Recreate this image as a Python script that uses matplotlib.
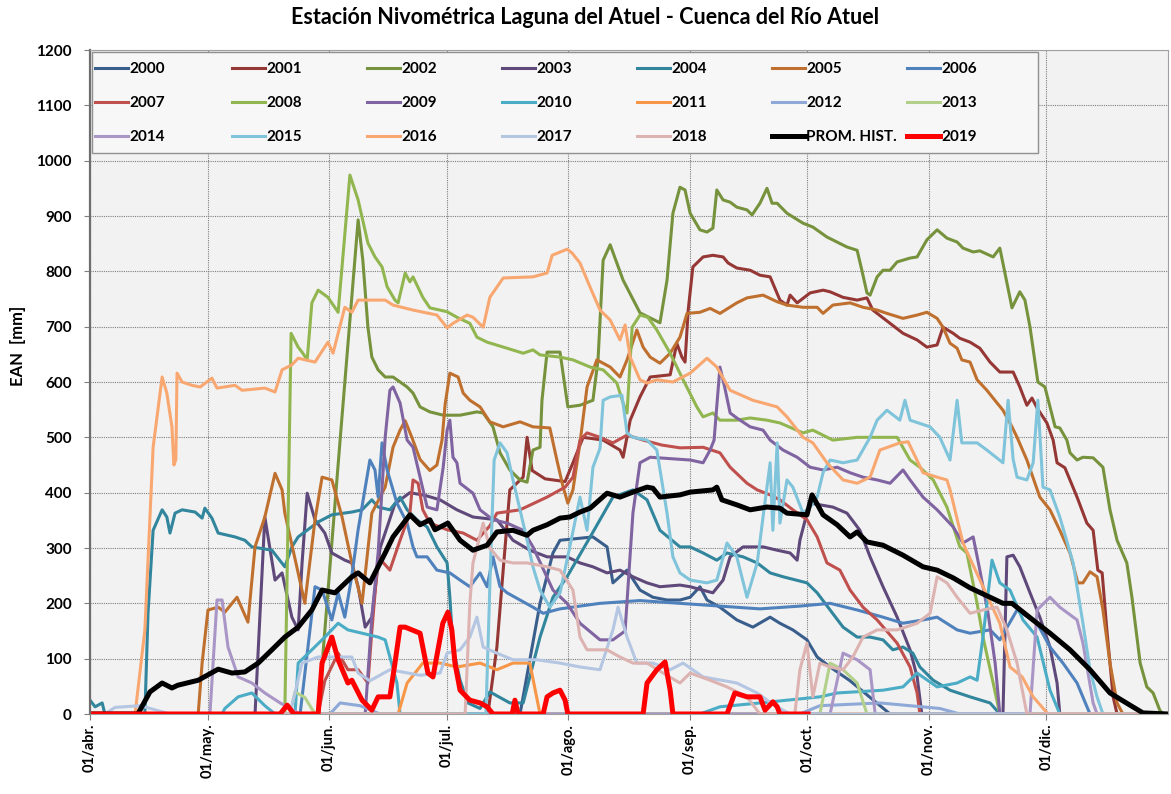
import matplotlib
matplotlib.use("Agg")
import matplotlib.pyplot as plt
from matplotlib.legend import Legend
from matplotlib.patches import Rectangle
from matplotlib.ticker import MultipleLocator

plt.rcParams['font.family'] = ['Lato', 'DejaVu Sans']
plt.rcParams['font.weight'] = 'bold'

# dias desde el 01/abr. , EAN [mm]
s2000 = [(0, 0), (109.7, 0), (114.8, 200), (118.1, 291), (119.9, 314), (128.3, 320), (131.9, 302), (133.4, 237), (137, 260), (140.3, 224), (143.6, 211), (147.2, 206), (150.5, 206), (153.1, 211), (155.6, 230), (157.4, 206), (160.7, 193), (165, 170), (169.1, 157), (173.5, 175), (176, 164), (179.3, 152), (182.9, 134), (185.5, 103), (188.8, 85), (193.9, 60), (199, 30), (204.1, 0), (270, 0)]
s2001 = [(0, 0), (101.5, 0), (103.8, 121), (105.4, 260), (107.1, 405), (110.5, 428), (111.5, 500), (112.8, 440), (116.1, 425), (121.2, 420), (123.2, 454), (125.8, 500), (130.9, 495), (135.2, 477), (136, 464), (137.8, 531), (140.3, 573), (142.9, 609), (148, 613), (149.7, 670), (151, 645), (151.8, 636), (152.6, 730), (153.8, 808), (156.4, 826), (158.9, 829), (161.5, 826), (162.8, 815), (165, 806), (168.4, 802), (170.9, 793), (173.5, 790), (176, 748), (177.8, 739), (178.6, 757), (180.4, 743), (183.7, 761), (187, 766), (188.8, 763), (192.1, 753), (195.7, 748), (198.2, 752), (199.7, 730), (204.1, 706), (207.4, 688), (211, 676), (213.5, 663), (216.1, 667), (217.6, 699), (220.2, 688), (221.9, 679), (224.5, 672), (227, 661), (229.6, 636), (232.1, 618), (235.5, 618), (237.2, 591), (239, 558), (240.3, 571), (241.6, 553), (244.1, 526), (245.7, 495), (246.7, 454), (248.7, 445), (251.8, 392), (254.3, 345), (255.9, 332), (257.1, 260), (258.2, 255), (259.4, 152), (260.2, 92), (261, 31), (262, 0), (270, 0)]
s2002 = [(0, 0), (58.2, 0), (63.8, 495), (68.4, 893), (69.6, 820), (70.9, 699), (71.9, 645), (73.5, 622), (75.3, 609), (77.3, 609), (80.9, 591), (82.4, 580), (84.2, 555), (86.7, 546), (90.1, 540), (94.4, 540), (98.7, 546), (100.3, 544), (102.8, 519), (104.6, 472), (107.1, 441), (109.7, 423), (111.5, 419), (113, 477), (114.8, 482), (115.3, 567), (116.6, 654), (119.9, 654), (121.9, 555), (125, 558), (128.3, 567), (129.6, 640), (130.9, 820), (132.7, 848), (134.4, 815), (136, 784), (140.3, 725), (145.4, 707), (147.2, 784), (148.7, 905), (150.5, 952), (151.8, 947), (153.1, 905), (155.6, 875), (157.4, 871), (158.9, 878), (159.9, 947), (161.5, 929), (163.3, 925), (165, 916), (167.6, 911), (168.9, 902), (170.9, 923), (172.7, 950), (174, 923), (175.3, 923), (177.8, 905), (181.9, 887), (184.4, 880), (188, 862), (193.1, 844), (195.7, 838), (196.9, 802), (198.2, 761), (199, 757), (200.8, 790), (202.3, 802), (204.1, 802), (205.9, 817), (209.2, 824), (211, 826), (213.5, 857), (216.1, 875), (218.6, 860), (221.2, 853), (222.7, 842), (225.3, 835), (227, 837), (230.4, 826), (232.1, 842), (233.4, 797), (235.2, 734), (237.2, 763), (238.5, 748), (239.8, 699), (241.8, 600), (243.6, 591), (246.2, 519), (247.4, 517), (249.2, 495), (250, 472), (251.8, 459), (253.3, 464), (255.9, 463), (258.4, 446), (260.2, 369), (262, 314), (264.5, 273), (265.8, 211), (267.9, 92), (269.6, 49), (271.2, 38), (272.9, 7), (273.7, 0), (275, 0)]
s2003 = [(0, 0), (42.1, 0), (44.6, 356), (47.2, 242), (49, 255), (51.5, 175), (53.1, 152), (54.1, 273), (55.4, 399), (57.4, 351), (59.9, 327), (61.7, 291), (65, 278), (66.8, 273), (68.4, 230), (70.2, 157), (71.9, 175), (74, 300), (77.8, 380), (81.6, 400), (85.5, 395), (89.3, 387), (93.6, 369), (97.7, 356), (103.8, 351), (107.9, 314), (112.2, 296), (116.6, 284), (121.7, 284), (125, 273), (128.3, 266), (131.9, 255), (135.2, 260), (138.5, 248), (142.1, 237), (145.4, 230), (150.5, 233), (153.1, 230), (158.9, 219), (161.5, 242), (163.3, 284), (166.6, 302), (171.7, 302), (175.3, 296), (178.6, 291), (180.4, 278), (181.1, 314), (182.9, 363), (183.7, 381), (186.2, 378), (189.5, 374), (193.1, 363), (196.4, 332), (199, 284), (202.3, 230), (205.9, 175), (209.2, 116), (211, 67), (212.2, 0), (232.9, 0), (233.9, 284), (235.5, 287), (237.2, 266), (239.8, 219), (242.3, 175), (244.9, 121), (246.7, 56), (247.4, 0), (270, 0)]
s2004 = [(0, 25), (1.3, 13), (3.1, 20), (3.8, 0), (14, 0), (14.8, 182), (16.1, 332), (18.4, 369), (19.6, 356), (20.4, 327), (21.7, 363), (23.5, 369), (26.8, 365), (28.6, 354), (29.3, 372), (31.1, 354), (32.7, 327), (37, 320), (39.5, 314), (41.3, 302), (46.4, 296), (49.7, 266), (51.5, 302), (53.1, 320), (58.2, 347), (61.7, 360), (66.8, 365), (69.4, 369), (71.9, 387), (73.5, 374), (76.5, 369), (79.1, 392), (80.9, 369), (83.4, 351), (86, 338), (88.5, 302), (91.1, 273), (91.8, 211), (92.6, 121), (94.4, 61), (96.4, 20), (99.5, 10), (102, 40), (107.1, 20), (110.5, 20), (114.8, 139), (118.1, 211), (121.7, 248), (127.6, 320), (133.4, 392), (138.5, 405), (142.1, 387), (145.4, 332), (150.5, 302), (153.1, 302), (156.4, 291), (159.9, 278), (162.5, 291), (166.6, 284), (170.2, 273), (173.5, 255), (176.8, 248), (182.9, 237), (185.5, 219), (188.8, 188), (192.1, 157), (195.7, 139), (199, 139), (202.3, 134), (204.8, 116), (207.4, 121), (209.9, 110), (211.7, 85), (215.1, 61), (219.4, 43), (224.5, 31), (229.6, 20), (232.1, 0), (270, 0)]
s2005 = [(0, 0), (27.6, 0), (28.6, 92), (30.1, 188), (32.7, 193), (34.4, 184), (37.5, 211), (40.3, 166), (42.1, 302), (44.6, 356), (47.2, 435), (49, 405), (49.7, 363), (53.1, 255), (54.8, 200), (57.4, 351), (59.2, 428), (61.7, 423), (64.3, 356), (66.8, 273), (69.4, 200), (71.9, 363), (75.3, 410), (77.3, 482), (79.1, 513), (80.4, 530), (82.1, 500), (84.2, 460), (86.7, 440), (88.5, 450), (89.8, 495), (90.6, 560), (91.8, 616), (93.9, 609), (95.2, 580), (96.9, 567), (99.5, 555), (102, 528), (105.4, 519), (109.7, 528), (113, 519), (117.3, 517), (119.1, 459), (120.7, 410), (121.9, 381), (123.2, 405), (125, 490), (126.8, 591), (129.3, 640), (132.7, 627), (135.2, 609), (137, 640), (139.5, 694), (141.1, 663), (142.9, 645), (145.4, 634), (148, 652), (150.5, 681), (152.3, 724), (155.6, 726), (158.2, 733), (160.7, 724), (165, 743), (167.6, 752), (171.7, 757), (175.3, 745), (177.8, 739), (181.9, 735), (185.5, 735), (187, 724), (189.5, 739), (193.9, 743), (197.2, 735), (200.8, 730), (203.3, 724), (207.4, 715), (211, 721), (213.5, 726), (216.1, 715), (217.6, 699), (219.4, 670), (221.2, 661), (222.4, 640), (224.5, 636), (226.3, 604), (228.8, 585), (231.4, 562), (232.9, 549), (235.2, 519), (236.5, 500), (239, 459), (242.3, 392), (244.9, 369), (247.4, 332), (250, 291), (252, 237), (253.3, 237), (255.1, 257), (256.9, 248), (258.4, 188), (260.2, 92), (262, 20), (263.5, 0), (275, 0)]
s2006 = [(0, 0), (53.6, 0), (57.4, 230), (59.2, 224), (61.7, 170), (63.3, 219), (65, 175), (66.8, 250), (68.4, 333), (71.4, 459), (72.7, 441), (73.5, 392), (74.5, 490), (75.8, 441), (78.3, 381), (80.9, 345), (82.4, 302), (83.4, 284), (86, 284), (88.5, 260), (91.8, 255), (94.4, 242), (96.9, 230), (99.5, 255), (101.3, 230), (102.8, 284), (104.6, 230), (106.4, 219), (109.7, 206), (113, 193), (115.6, 182), (119.9, 190), (130.1, 200), (140.3, 205), (150.5, 200), (160.7, 195), (170.9, 190), (181.1, 195), (188.8, 200), (195.7, 188), (202.3, 175), (207.4, 164), (212.5, 170), (216.1, 175), (221.2, 152), (224.5, 146), (229.6, 152), (232.1, 134), (236.5, 188), (241.6, 164), (244.9, 121), (248.2, 92), (251.8, 56), (255.1, 0), (275, 0)]
s2007 = [(0, 0), (58.2, 0), (59.9, 60), (63.3, 110), (65.8, 80), (68.4, 80), (70.9, 56), (71.9, 150), (73.5, 284), (76.5, 260), (79.1, 314), (81.6, 363), (82.4, 423), (83.7, 417), (84.9, 369), (86.7, 345), (91.1, 333), (95.2, 327), (98.7, 314), (102, 340), (103.8, 363), (109.7, 369), (116.6, 392), (121.2, 410), (123.2, 428), (125, 495), (126.8, 508), (130.1, 500), (133.4, 490), (137, 504), (141.1, 495), (145.9, 486), (150.5, 481), (156.4, 482), (160.7, 472), (163.3, 446), (167.6, 417), (170.2, 405), (173.5, 396), (176, 387), (179.3, 369), (182.9, 351), (185.5, 320), (188, 273), (191.3, 260), (193.9, 224), (197.2, 193), (200.8, 170), (205.9, 128), (209.2, 85), (211, 38), (211.7, 0), (275, 0)]
s2008 = [(0, 0), (49.7, 0), (51.3, 688), (53.1, 663), (54.3, 652), (55.4, 640), (56.6, 743), (58.2, 766), (60.7, 753), (63.3, 726), (66.3, 974), (68.4, 929), (70.9, 851), (72.7, 826), (74.5, 808), (75.8, 772), (77.8, 748), (78.6, 743), (80.4, 797), (81.6, 781), (82.4, 790), (84.9, 753), (86.7, 734), (91.1, 727), (93.6, 717), (96.9, 706), (98.7, 681), (101.3, 672), (106.4, 661), (110.5, 652), (113, 658), (114.8, 649), (119.9, 645), (123.2, 640), (127.6, 627), (130.9, 622), (134.4, 598), (136, 562), (137, 544), (138.3, 699), (140.3, 721), (142.3, 717), (144.6, 694), (148, 652), (151.3, 604), (154.8, 555), (156.4, 537), (158.9, 544), (160.7, 531), (165, 531), (168.4, 535), (172.7, 531), (176, 526), (181.9, 508), (184.4, 513), (189.5, 495), (195.7, 500), (202.3, 500), (205.9, 500), (209.2, 459), (211.7, 446), (215.1, 423), (218.6, 374), (221.9, 302), (223.7, 291), (226.3, 200), (227.8, 139), (230.4, 56), (232.1, 0), (275, 0)]
s2009 = [(0, 0), (70.2, 0), (71.9, 175), (73.5, 291), (75.3, 500), (76.5, 585), (77.3, 591), (79.1, 562), (80.9, 495), (82.4, 482), (84.2, 428), (86, 374), (88.5, 369), (90.1, 446), (91.1, 513), (91.8, 531), (92.6, 464), (93.6, 454), (94.4, 417), (97.7, 399), (99.5, 369), (102.8, 351), (106.4, 345), (110.5, 332), (113, 302), (118.1, 224), (121.7, 200), (125, 164), (130.1, 134), (133.4, 134), (136.5, 150), (138.5, 363), (140.3, 454), (142.9, 464), (153.1, 459), (156.4, 454), (158.2, 477), (159.2, 495), (160.7, 627), (161.9, 591), (163.3, 544), (165, 535), (168.4, 519), (171.7, 513), (173.5, 495), (176.8, 477), (180.4, 464), (183.7, 446), (187, 441), (190.6, 446), (193.9, 436), (197.2, 428), (200.8, 423), (204.1, 417), (207.4, 441), (209.2, 423), (212.5, 392), (216.1, 369), (220.2, 338), (222.7, 309), (225.3, 320), (227, 260), (229.1, 182), (230.9, 92), (232.1, 0), (275, 0)]
s2010 = [(0, 0), (33.7, 0), (34.4, 10), (37.8, 31), (41.3, 38), (44.6, 15), (47.2, 0), (52.3, 0), (53.1, 92), (56.6, 116), (59.9, 139), (63.3, 164), (65.8, 152), (69.4, 146), (73.5, 139), (75.3, 134), (76.5, 103), (78.3, 56), (79.1, 0), (155.6, 0), (160.7, 13), (170.9, 20), (186.2, 31), (190.6, 38), (202.3, 43), (207.4, 49), (211, 74), (216.1, 49), (221.2, 56), (224.5, 67), (226.3, 61), (227.8, 139), (230.1, 278), (232.1, 237), (234.7, 224), (238, 170), (241.6, 139), (244.9, 43), (247.4, 0), (275, 0)]
s2011 = [(0, 0), (78.6, 0), (80.9, 56), (84.9, 92), (89.3, 92), (93.6, 85), (99.5, 92), (103.8, 80), (107.9, 92), (112.2, 92), (114.8, 0), (275, 0)]
s2012 = [(0, 0), (61.2, 0), (63.8, 20), (68.9, 15), (74, 0), (181.1, 0), (186.2, 15), (201.5, 20), (216.8, 10), (221.9, 0), (275, 0)]
s2013 = [(0, 0), (51, 0), (52.3, 40), (54.8, 30), (57.4, 0), (186.2, 0), (188.8, 92), (192.1, 80), (195.7, 56), (198.2, 0), (275, 0)]
s2014 = [(0, 0), (30.6, 0), (32.4, 206), (33.7, 206), (35.2, 121), (37.8, 67), (41.3, 56), (44.6, 38), (48.5, 20), (53.6, 0), (188.8, 0), (192.1, 110), (195.7, 98), (199, 80), (200.3, 0), (239.8, 0), (241.6, 188), (244.9, 211), (247.4, 193), (251.8, 170), (253.3, 128), (255.9, 20), (256.9, 0), (275, 0)]
s2015 = [(0, 0), (101, 0), (102.3, 300), (103.1, 459), (104.6, 490), (106.4, 472), (107.9, 423), (109.7, 369), (111.5, 314), (113, 266), (114.8, 224), (117.3, 193), (119.9, 219), (122.4, 302), (125, 392), (126.8, 332), (128.3, 446), (130.1, 480), (130.9, 567), (132.7, 573), (135.7, 576), (137, 508), (138.5, 500), (142.1, 495), (144.6, 477), (147.2, 363), (148.7, 284), (150.5, 255), (153.1, 242), (157.4, 237), (159.9, 242), (162.5, 309), (165, 284), (167.6, 211), (170.2, 273), (171.7, 356), (173.5, 454), (174.2, 332), (175.3, 490), (176, 345), (177.8, 423), (179.3, 410), (181.9, 363), (183.7, 374), (185.5, 392), (187, 436), (188.8, 459), (192.1, 454), (195.7, 459), (199, 500), (200.8, 531), (203.3, 549), (206.6, 531), (207.9, 567), (209.2, 531), (214.3, 519), (216.8, 500), (219.4, 459), (221.2, 567), (222.4, 490), (226.3, 490), (228.8, 477), (232.9, 454), (234.2, 567), (235.5, 460), (236.5, 428), (239, 423), (240.6, 454), (241.8, 567), (243.1, 410), (244.9, 405), (247.4, 356), (250.8, 273), (253.3, 164), (255.1, 80), (256.9, 31), (258.4, 0), (275, 0)]
s2016 = [(0, 0), (11.5, 0), (14, 152), (16.1, 482), (18.4, 609), (19.6, 580), (20.9, 519), (21.4, 450), (21.9, 460), (22.2, 616), (23.5, 600), (26, 594), (28.1, 591), (31.1, 607), (32.4, 589), (37, 594), (38.8, 585), (44.6, 589), (47.2, 582), (49, 622), (51.5, 631), (53.1, 643), (57.4, 636), (60.7, 672), (62, 652), (65, 735), (66.8, 726), (68.4, 748), (71.9, 748), (75.3, 748), (77.3, 739), (82.4, 730), (88.5, 721), (91.1, 698), (92.6, 706), (96.2, 721), (97.7, 717), (100.3, 699), (102, 753), (105.4, 788), (113, 790), (116.6, 797), (117.9, 829), (121.7, 840), (123, 833), (125, 815), (127.6, 771), (130.1, 730), (132.7, 712), (135.2, 676), (136.5, 703), (137.8, 645), (140.3, 604), (142.1, 598), (144.6, 604), (148.7, 600), (153.1, 616), (157.4, 643), (159.9, 627), (163.3, 585), (169.1, 567), (175.3, 555), (177.8, 537), (181.9, 500), (184.4, 490), (188, 454), (192.1, 423), (195.7, 417), (199, 428), (201.5, 477), (206.6, 490), (208.7, 492), (212.5, 436), (216.1, 428), (218.6, 423), (219.4, 405), (222.7, 309), (227.8, 230), (232.1, 164), (234.7, 85), (237.8, 67), (240.6, 31), (244.4, 0), (275, 0)]
s2017 = [(0, 0), (3.8, 0), (6.4, 12), (12.8, 15), (17.9, 5), (20.4, 0), (51, 0), (54.1, 92), (58.2, 103), (63.3, 103), (66.8, 103), (68.4, 74), (71.4, 60), (76.5, 80), (84.2, 70), (89.3, 74), (91.1, 110), (94.4, 116), (96.9, 139), (98.7, 175), (100.3, 121), (103.8, 110), (107.9, 98), (114, 98), (119.9, 92), (125, 85), (130.1, 80), (133.4, 152), (134.7, 193), (137, 139), (139.5, 92), (143.6, 92), (148, 80), (151.3, 92), (156.4, 67), (165, 56), (170.2, 38), (174.7, 15), (178.6, 0), (275, 0)]
s2018 = [(0, 0), (95.7, 0), (96.9, 200), (97.7, 273), (100.3, 345), (102, 300), (104.6, 278), (107.9, 273), (111.5, 273), (116.6, 266), (119.9, 260), (123.2, 224), (125, 139), (126.8, 116), (131.9, 116), (135.2, 103), (138.5, 92), (142.1, 92), (146.2, 74), (150.5, 56), (153.1, 74), (158.2, 61), (162.5, 49), (167.6, 31), (170.9, 0), (179.8, 0), (181.1, 80), (182.9, 128), (184.4, 31), (186.2, 92), (188.8, 85), (192.1, 80), (194.6, 103), (197.2, 139), (200.8, 152), (205.9, 152), (211, 164), (214.3, 182), (216.1, 248), (218.6, 237), (221.2, 211), (224.5, 182), (227.8, 188), (231.4, 193), (233.9, 152), (236.5, 92), (239, 0), (275, 0)]
prom_hist = [(0, 0), (12.2, 0), (15.3, 40), (18.4, 56), (20.9, 47), (22.4, 52), (27.6, 61), (32.7, 81), (36.2, 74), (39.5, 76), (42.9, 92), (46.4, 116), (49.7, 139), (53.1, 157), (56.6, 188), (59.2, 224), (62.5, 219), (66.8, 248), (68.4, 255), (71.4, 237), (75.3, 291), (77.3, 320), (81.6, 360), (84.2, 342), (86.7, 351), (88, 333), (91.3, 345), (94.4, 314), (97.7, 296), (101.3, 305), (103.8, 329), (107.9, 332), (111.5, 323), (113, 332), (116.6, 342), (119.9, 354), (122.4, 356), (125, 365), (127.6, 372), (131.9, 399), (135.2, 392), (138.5, 401), (142.1, 410), (143.6, 408), (145.4, 392), (150.5, 396), (153.1, 401), (158.9, 405), (159.9, 410), (161.2, 387), (165, 378), (168.4, 369), (172.7, 374), (176, 372), (177.8, 363), (182.9, 360), (184.2, 396), (187, 360), (190.6, 342), (193.9, 320), (195.7, 329), (198.2, 311), (202.3, 305), (207.4, 287), (212.5, 266), (216.1, 260), (220.2, 246), (224.5, 228), (229.6, 211), (232.9, 200), (235.2, 200), (241.6, 164), (244.9, 146), (250, 116), (255.1, 80), (260.2, 38), (265.3, 16), (268.6, 2), (275, 0)]
s2019 = [(0, 0), (48.5, 0), (50.3, 16), (52, 0), (58.2, 0), (59.2, 92), (61.7, 139), (63.3, 98), (65.8, 56), (66.8, 61), (69.4, 25), (71.9, 7), (73.5, 31), (76.5, 31), (77.8, 92), (79.1, 157), (80.4, 157), (84.2, 146), (86.2, 74), (87.5, 67), (90, 164), (91.3, 184), (92.3, 152), (93.1, 92), (94.4, 43), (96.9, 25), (99.5, 20), (101.3, 13), (102.8, 0), (107.7, 0), (108.4, 25), (109.2, 0), (115.6, 0), (116.6, 31), (118.1, 38), (119.9, 43), (121.2, 25), (121.9, 0), (141.1, 0), (142.1, 56), (144.6, 80), (146.7, 94), (148, 43), (148.7, 0), (162.5, 0), (164.5, 38), (167.6, 31), (170.9, 31), (172.2, 7), (174.2, 22), (175.3, 13), (176, 0), (183.2, 0)]

series = [s2000, s2001, s2002, s2003, s2004, s2005, s2006, s2007, s2008, s2009,
          s2010, s2011, s2012, s2013, s2014, s2015, s2016, s2017, s2018, prom_hist, s2019]
labels = ['2000', '2001', '2002', '2003', '2004', '2005', '2006', '2007', '2008', '2009',
          '2010', '2011', '2012', '2013', '2014', '2015', '2016', '2017', '2018', 'PROM. HIST.', '2019']
colors = ['#3A5E8C', '#953735', '#76923C', '#5F497A', '#31859C', '#C0702E', '#4F81BD',
          '#C0504D', '#92B64F', '#8064A2', '#4BACC6', '#F79646', '#8EA9D8', '#B3D08A',
          '#A996C6', '#7FC4DA', '#F9A770', '#B4C6E2', '#DDB3B1', '#000000', '#FF0000']

month_days = [0, 30, 61, 91, 122, 153, 183, 214, 244]
month_labels = ['01/abr.', '01/may.', '01/jun.', '01/jul.', '01/ago.', '01/sep.', '01/oct.', '01/nov.', '01/dic.']

fig = plt.figure(figsize=(11.71, 7.94), dpi=100)
ax = fig.add_axes([90 / 1171, 80 / 794, 1078 / 1171, 664 / 794])
ax.set_facecolor('#F2F2F2')

handles = []
for data, lab, col in zip(series, labels, colors):
    xs = [p[0] for p in data]
    ys = [p[1] for p in data]
    lw = 3.6 if lab in ('PROM. HIST.', '2019') else 2.2
    h, = ax.plot(xs, ys, color=col, linewidth=lw, label=lab, solid_joinstyle='round')
    handles.append(h)

ax.set_xlim(0, 275)
ax.set_ylim(0, 1200)
ax.yaxis.set_major_locator(MultipleLocator(100))
ax.set_xticks(month_days)
ax.set_xticklabels(month_labels, rotation=90, fontsize=10.5, fontweight='bold')
for t in ax.get_yticklabels():
    t.set_fontsize(11)
    t.set_fontweight('bold')
ax.tick_params(axis='y', length=4, color='#808080', pad=9)
ax.tick_params(axis='x', length=4, color='#808080', pad=3)
ax.grid(True, color='#7F7F7F', linestyle=(0, (1, 1)), linewidth=0.8)
ax.set_axisbelow(True)
for side in ['top', 'right', 'bottom']:
    ax.spines[side].set_color('#A0A0A0')
    ax.spines[side].set_linewidth(0.8)
ax.spines['left'].set_color('#6E6E6E')
ax.spines['left'].set_linewidth(1.6)

# legend: 7 equal columns, 3 rows, filled row by row like the original
ax.add_patch(Rectangle((0.0019, 0.845), 0.8775, 0.152, transform=ax.transAxes,
                       facecolor='#F7F7F7', edgecolor='#909090', linewidth=1.0, zorder=4))
nrow, ncol = 3, 7
col_x = [0.0046, 0.1317, 0.2570, 0.3822, 0.5074, 0.6327, 0.7579]
for c in range(ncol):
    idx = [r * ncol + c for r in range(nrow)]
    leg = Legend(ax, [handles[i] for i in idx], [labels[i] for i in idx],
                 loc='upper left', bbox_to_anchor=(col_x[c], 0.982), frameon=False,
                 prop={'size': 11, 'weight': 'bold'}, handlelength=2.15, handletextpad=0.1,
                 labelspacing=1.31, borderpad=0, borderaxespad=0)
    leg.set_zorder(5)
    ax.add_artist(leg)

fig.text(0.5, 1 - 18 / 794, 'Estación Nivométrica Laguna del Atuel - Cuenca del Río Atuel',
         ha='center', va='center', fontsize=15.5, fontweight='bold')
fig.text(18 / 1171, 1 - 346 / 794, 'EAN  [mm]', rotation=90, ha='center', va='center',
         fontsize=12, fontweight='bold')

fig.savefig('out.png', dpi=100)
